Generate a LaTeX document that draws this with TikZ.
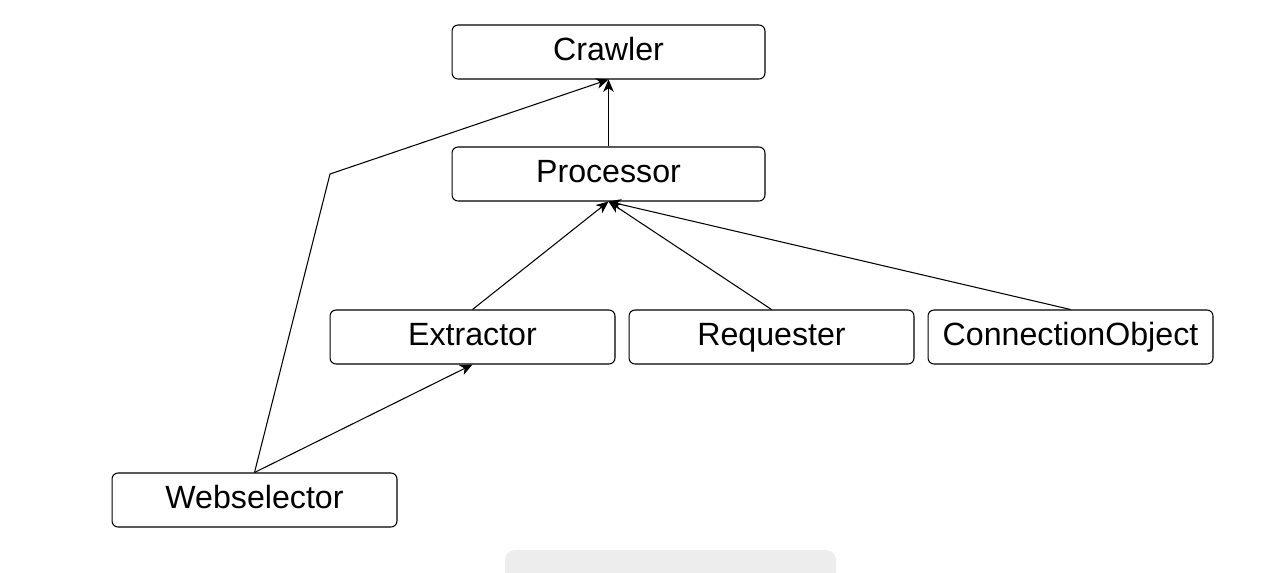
\documentclass[tikz,border=0pt]{standalone}
\usepackage{fontspec}
\setmainfont{Liberation Sans}
\usetikzlibrary{positioning,shapes,arrows.meta}

\begin{document}
\begin{tikzpicture}[x=0.02cm,y=-0.02cm,
  		class/.style={rectangle,draw,fill=white,rounded corners=0.12cm,line width=0.6pt,
    		minimum height=1.08cm,inner sep=0pt,text height=0.42cm,text depth=0.1cm,
    		font=\fontsize{18.3}{22}\selectfont},
  		wide/.style={minimum width=6.26cm},
  		narrow/.style={minimum width=5.7cm},
  		link/.style={line width=0.6pt,-{Stealth[length=7pt,width=6pt,inset=2pt]}}]
    		\clip (0,0) rectangle (1280,572);
    		\useasboundingbox (0,0) rectangle (1280,572);
    		% Viewer toolbar
      		\fill[black!7,rounded corners=0.2cm] (505,550) rectangle (836,600);
    		% Classes
      		\node[class,wide] (crawler) at (608.5,52) {Crawler};
      		\node[class,wide] (processor) at (608.5,174) {Processor};
      		\node[class,narrow] (extractor) at (472.5,337) {Extractor};
      		\node[class,narrow] (requester) at (771.5,337) {Requester};
      		\node[class,narrow] (connection) at (1070.5,337) {ConnectionObject};
      		\node[class,narrow] (webselector) at (254.5,500) {Webselector};
      		\coordinate (bend) at (330,174);
    		% Links
      		\draw[link] (processor.north) -- (crawler.south);
      		\draw[link] (extractor.north) -- (processor.south);
      		\draw[link] (requester.north) -- (processor.south);
      		\draw[link] (connection.north) -- (processor.south);
      		\draw[link] (webselector.north) -- (extractor.south);
      		\draw[link] (webselector.north) -- (bend) -- (crawler.south);
	\end{tikzpicture}
\end{document}
